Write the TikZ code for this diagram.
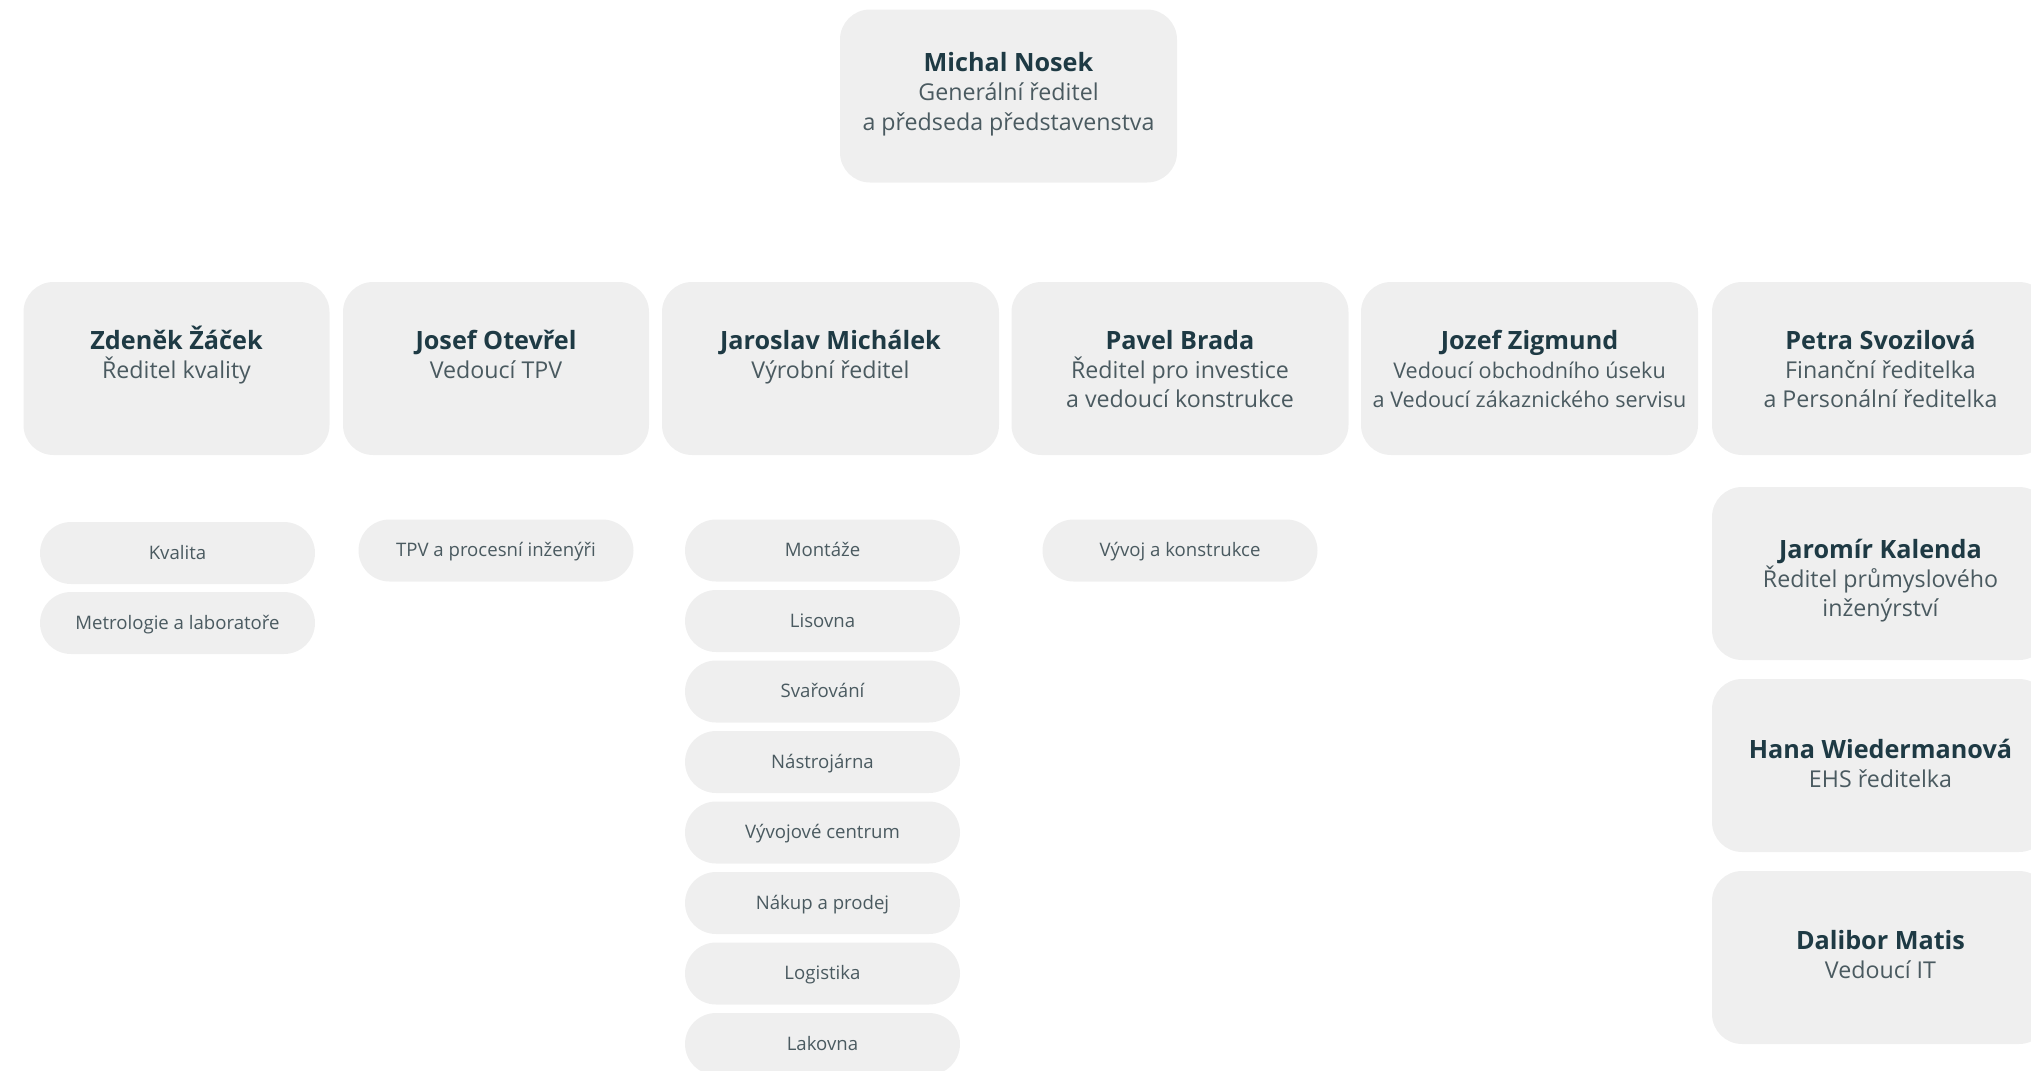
\documentclass[tikz,border=0pt]{standalone}
\usepackage{fontspec}
\setmainfont{Open Sans}
\definecolor{cardfill}{HTML}{EFEFEF}
\definecolor{namecol}{HTML}{1E3A44}
\definecolor{rolecol}{HTML}{4A5A60}
\newcommand{\who}[1]{\rule{0pt}{14.5pt}{\color{namecol}\fontsize{12.6}{14.6}\selectfont\bfseries #1}}

\begin{document}
\begin{tikzpicture}[x=0.5pt,y=-0.5pt]
\tikzstyle{card}=[rectangle,fill=cardfill,rounded corners=15pt,inner sep=0pt,minimum width=168.5pt,minimum height=86.5pt,align=center,text=rolecol,font=\fontsize{11.6}{14.6}\selectfont,execute at end node={\rule[-4.5pt]{0pt}{4.5pt}}]
\tikzstyle{slim}=[card,minimum width=153pt]
\tikzstyle{pill}=[rectangle,fill=cardfill,rounded corners=15.5pt,inner sep=0pt,minimum width=137.5pt,minimum height=31pt,text height=8.1pt,text depth=1.8pt,text=rolecol,font=\fontsize{9.3}{11}\selectfont]
\useasboundingbox (0,0) rectangle (2031,1071);
% vedeni
\node [card,execute at end node={\rule[-9.7pt]{0pt}{9.7pt}}] (nosek) at (1008.5,96) {\who{Michal Nosek}\\Generální ředitel\\a předseda představenstva};
\node [slim] (zacek) at (176.5,368.5) {\who{Zdeněk Žáček}\\Ředitel kvality\\};
\node [slim] (otevrel) at (496,368.5) {\who{Josef Otevřel}\\Vedoucí TPV\\};
\node [card] (michalek) at (830.5,368.5) {\who{Jaroslav Michálek}\\Výrobní ředitel\\};
\node [card] (brada) at (1180,368.5) {\who{Pavel Brada}\\Ředitel pro investice\\a vedoucí konstrukce};
\node [card,font=\fontsize{10.8}{14.6}\selectfont] (zigmund) at (1529.5,368.5) {\who{Jozef Zigmund}\\Vedoucí obchodního úseku\\a Vedoucí zákaznického servisu};
\node [card] (svozilova) at (1880.5,368.5) {\who{Petra Svozilová}\\Finanční ředitelka\\a Personální ředitelka};
\node [card] (kalenda) at (1880.5,573.5) {\rule{0pt}{18.4pt}\who{Jaromír Kalenda}\\Ředitel průmyslového\\inženýrství};
\node [card,execute at end node={\rule[-7.1pt]{0pt}{7.1pt}}] (wiedermanova) at (1880.5,765.5) {\who{Hana Wiedermanová}\\EHS ředitelka};
\node [card,execute at end node={\rule[-7.8pt]{0pt}{7.8pt}}] (matis) at (1880.5,957.5) {\who{Dalibor Matis}\\Vedoucí IT};
% oddeleni
\node [pill] (kvalita) at (177.5,553) {Kvalita};
\node [pill] (metrologie) at (177.5,623) {Metrologie a laboratoře};
\node [pill] (tpv) at (496,550.5) {TPV a procesní inženýři};
\node [pill] (montaze) at (822.5,550.5) {Montáže};
\node [pill] (lisovna) at (822.5,621) {Lisovna};
\node [pill] (svarovani) at (822.5,691.5) {Svařování};
\node [pill] (nastrojarna) at (822.5,762) {Nástrojárna};
\node [pill] (centrum) at (822.5,832.5) {Vývojové centrum};
\node [pill] (nakup) at (822.5,903) {Nákup a prodej};
\node [pill] (logistika) at (822.5,973.5) {Logistika};
\node [pill] (lakovna) at (822.5,1044) {Lakovna};
\node [pill] (vyvoj) at (1180,550.5) {Vývoj a konstrukce};
\end{tikzpicture}
\end{document}
